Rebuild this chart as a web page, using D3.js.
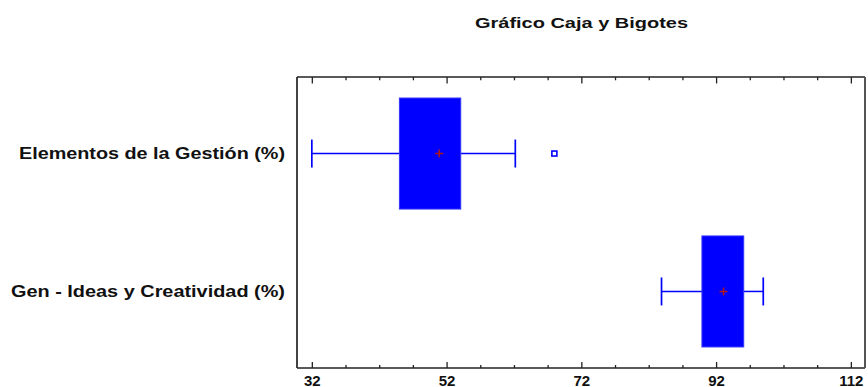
<!DOCTYPE html>
<html>
<head>
<meta charset="utf-8">
<script src="https://cdn.jsdelivr.net/npm/d3@7/dist/d3.min.js"></script>
<style>
  html, body { margin: 0; padding: 0; background: #fff; overflow: hidden; }
  svg { display: block; }
  text { font-family: "Liberation Sans", Arial, sans-serif; font-weight: bold; fill: #111; }
</style>
</head>
<body>
<svg id="chart" width="868" height="387"></svg>
<script>
// ---- Data ----
const categories = ["Elementos de la Gestión (%)", "Gen - Ideas y Creatividad (%)"];
const whiskerLow  = [32.0, 83.9];
const q1          = [45.0, 89.9];
const q3          = [54.1, 96.1];
const whiskerHigh = [62.2, 99.0];
const means       = [50.9, 93.1];
const outliers    = [[68.0], []];
const tickValues  = [32, 52, 72, 92, 112];
const minorTickValues = d3.range(32, 113, 5);
const title = "Gráfico Caja y Bigotes";

// ---- Layout ----
const W = 868, H = 387;
const plot = { left: 297, right: 865, top: 77, bottom: 368 };
const blue = "#0000ff";
const labelWidths = [266, 274];

const svg = d3.select("#chart");

const x = d3.scaleLinear().domain([29.8, 114.1]).range([plot.left, plot.right]);
const y = d3.scalePoint().domain(categories).range([plot.top, plot.bottom]).padding(0.555);
const step = y.step();
const boxH = step * 0.805;
const capH = 28;

// Title
svg.append("text")
  .attr("x", 475).attr("y", 28)
  .attr("textLength", 213).attr("lengthAdjust", "spacingAndGlyphs")
  .style("font-size", "15.5px")
  .text(title);

// Frame
svg.append("line").attr("x1", plot.left).attr("x2", plot.right).attr("y1", plot.top).attr("y2", plot.top)
  .attr("stroke", "#222").attr("stroke-width", 1.7);
svg.append("line").attr("x1", plot.left).attr("x2", plot.right).attr("y1", plot.bottom).attr("y2", plot.bottom)
  .attr("stroke", "#222").attr("stroke-width", 1.7);
svg.append("line").attr("x1", plot.left).attr("x2", plot.left).attr("y1", plot.top).attr("y2", plot.bottom)
  .attr("stroke", "#222").attr("stroke-width", 1.7);
svg.append("line").attr("x1", plot.right).attr("x2", plot.right).attr("y1", plot.top).attr("y2", plot.bottom)
  .attr("stroke", "#555").attr("stroke-width", 2);

// Bottom axis (ticks pointing inside)
const bottomAxis = d3.axisBottom(x).tickValues(tickValues).tickSize(-6).tickPadding(12).tickFormat(d3.format("d"));
const gb = svg.append("g").attr("transform", `translate(0,${plot.bottom})`).call(bottomAxis);
gb.select(".domain").remove();
gb.selectAll(".tick line").attr("stroke", "#222").attr("stroke-width", 1.3);
gb.selectAll(".tick text").style("font-size", "15px").style("font-family", "'Liberation Sans', Arial, sans-serif")
  .style("font-weight", "bold").attr("fill", "#111").attr("dy", null).attr("y", 18);

const minorB = d3.axisBottom(x).tickValues(minorTickValues.filter(v => !tickValues.includes(v))).tickSize(-3).tickFormat("");
const gbm = svg.append("g").attr("transform", `translate(0,${plot.bottom})`).call(minorB);
gbm.select(".domain").remove();
gbm.selectAll(".tick line").attr("stroke", "#222").attr("stroke-width", 1.3);

// Top axis (ticks pointing inside)
const topAxis = d3.axisTop(x).tickValues(tickValues).tickSize(-6.5).tickFormat("");
const gt = svg.append("g").attr("transform", `translate(0,${plot.top})`).call(topAxis);
gt.select(".domain").remove();
gt.selectAll(".tick line").attr("stroke", "#222").attr("stroke-width", 1.3);
const minorT = d3.axisTop(x).tickValues(minorTickValues.filter(v => !tickValues.includes(v))).tickSize(-3.3).tickFormat("");
const gtm = svg.append("g").attr("transform", `translate(0,${plot.top})`).call(minorT);
gtm.select(".domain").remove();
gtm.selectAll(".tick line").attr("stroke", "#222").attr("stroke-width", 1.3);

// Category labels
svg.append("g").selectAll("text").data(categories).join("text")
  .attr("x", (d, i) => 285 - labelWidths[i]).attr("y", d => y(d))
  .attr("dy", "0.36em")
  .attr("textLength", (d, i) => labelWidths[i]).attr("lengthAdjust", "spacingAndGlyphs")
  .style("font-size", "16.5px")
  .text(d => d);

// Boxes
const idx = d3.range(categories.length);
const g = svg.append("g");
idx.forEach(i => {
  const cy = y(categories[i]);
  g.append("line").attr("x1", x(whiskerLow[i])).attr("x2", x(q1[i])).attr("y1", cy).attr("y2", cy)
    .attr("stroke", blue).attr("stroke-width", 1.5);
  g.append("line").attr("x1", x(q3[i])).attr("x2", x(whiskerHigh[i])).attr("y1", cy).attr("y2", cy)
    .attr("stroke", blue).attr("stroke-width", 1.5);
  [whiskerLow[i], whiskerHigh[i]].forEach(v => {
    g.append("line").attr("x1", x(v)).attr("x2", x(v)).attr("y1", cy - capH / 2).attr("y2", cy + capH / 2)
      .attr("stroke", blue).attr("stroke-width", 1.7);
  });
  g.append("rect").attr("x", x(q1[i])).attr("width", x(q3[i]) - x(q1[i]))
    .attr("y", cy - boxH / 2).attr("height", boxH)
    .attr("fill", blue).attr("stroke", "#3333ff").attr("stroke-width", 1);
  const mx = x(means[i]);
  g.append("path").attr("d", `M${mx - 4},${cy}H${mx + 4}M${mx},${cy - 4}V${cy + 4}`)
    .attr("stroke", "#b01818").attr("stroke-width", 1.5).attr("fill", "none");
  outliers[i].forEach(v => {
    g.append("rect").attr("x", x(v) - 2.5).attr("y", cy - 2.5).attr("width", 5).attr("height", 5)
      .attr("fill", "none").attr("stroke", blue).attr("stroke-width", 1.6);
  });
});
</script>
</body>
</html>
